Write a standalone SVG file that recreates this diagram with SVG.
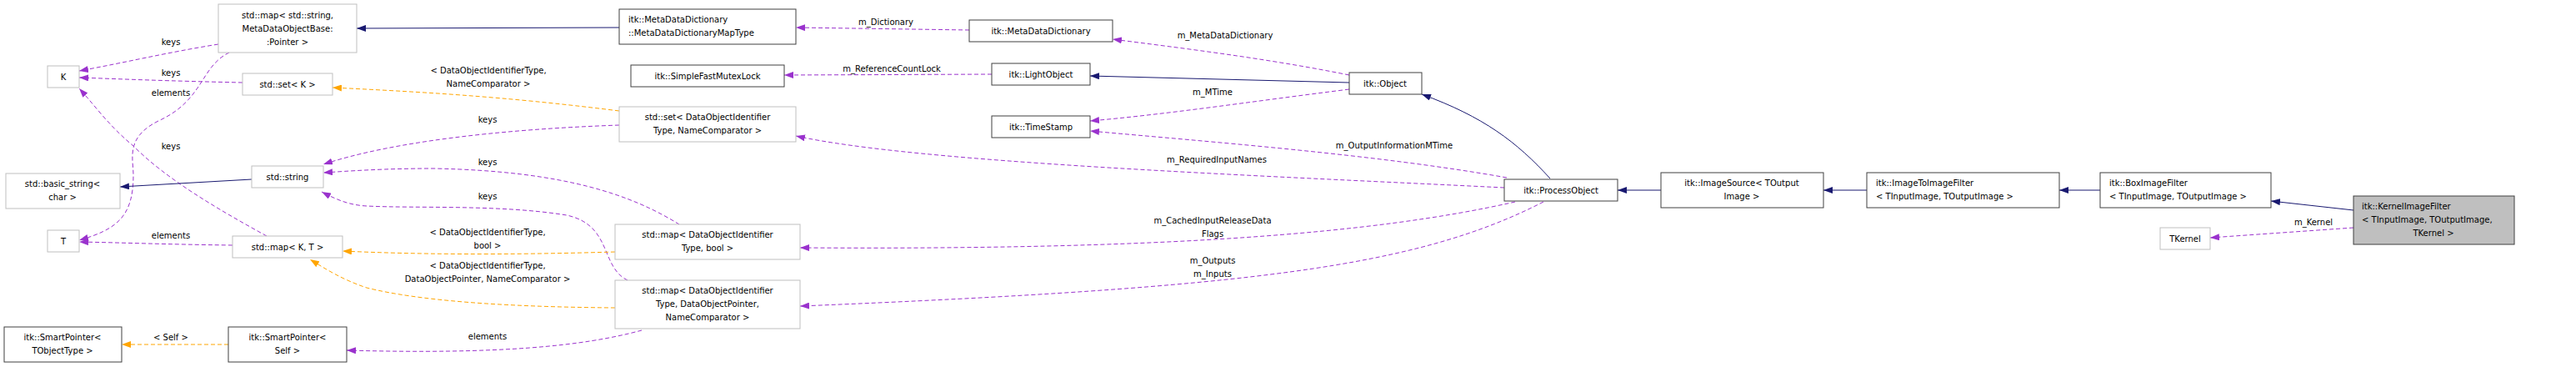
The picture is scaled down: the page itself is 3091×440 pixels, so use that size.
<svg xmlns="http://www.w3.org/2000/svg" width="3091" height="440" viewBox="0 0 3091 440">
<style>
text{font-family:"DejaVu Sans","Liberation Sans",sans-serif;font-size:10px;fill:#000}
.c{text-anchor:middle}
.n rect{fill:#fff;stroke:#bfbfbf;stroke-width:1}
.n.b rect{stroke:#404040}
.e{fill:none;stroke-width:1}
.s{stroke:#191970;marker-end:url(#an)}
.p{stroke:#9a32cd;stroke-dasharray:5,3;marker-end:url(#ap)}
.o{stroke:#ffa500;stroke-dasharray:5,3;marker-end:url(#ao)}
</style>
<defs>
<marker id="an" markerWidth="12" markerHeight="8" refX="11" refY="4" orient="auto" markerUnits="userSpaceOnUse"><path d="M0,0L11,4L0,8z" fill="#191970"/></marker>
<marker id="ap" markerWidth="12" markerHeight="8" refX="11" refY="4" orient="auto" markerUnits="userSpaceOnUse"><path d="M0,0L11,4L0,8z" fill="#9a32cd"/></marker>
<marker id="ao" markerWidth="12" markerHeight="8" refX="11" refY="4" orient="auto" markerUnits="userSpaceOnUse"><path d="M0,0L11,4L0,8z" fill="#ffa500"/></marker>
</defs>
<rect width="3091" height="440" fill="#fff"/>
<g id="edges">
<path class="e s" d="M743,33L428,34"/>
<path class="e p" d="M1163,36L955,33"/><text class="c" x="1063" y="30">m_Dictionary</text>
<path class="e p" d="M1619,90C1520,70 1420,58 1335,47"/><text class="c" x="1470" y="46">m_MetaDataDictionary</text>
<path class="e p" d="M1190,89L941,90"/><text class="c" x="1070" y="86">m_ReferenceCountLock</text>
<path class="e s" d="M1619,99L1308,91"/>
<path class="e p" d="M1619,107C1500,122 1400,137 1308,145"/><text class="c" x="1455" y="114">m_MTime</text>
<path class="e p" d="M1808,213C1650,185 1450,170 1308,157"/><text class="c" x="1673" y="178">m_OutputInformationMTime</text>
<path class="e s" d="M1860,214C1820,170 1780,140 1706,113"/>
<path class="e p" d="M1805,225C1500,210 1100,195 955,163"/><text class="c" x="1460" y="195">m_RequiredInputNames</text>
<path class="e p" d="M1818,242C1650,280 1400,300 960,297"/><text class="c" x="1455" y="268">m_CachedInputReleaseData</text><text class="c" x="1455" y="284">Flags</text>
<path class="e p" d="M1852,242C1700,320 1500,345 960,367"/><text class="c" x="1455" y="316">m_Outputs</text><text class="c" x="1455" y="332">m_Inputs</text>
<path class="e s" d="M1993,228L1941,228"/>
<path class="e s" d="M2240,228L2188,228"/>
<path class="e s" d="M2520,228L2471,228"/>
<path class="e s" d="M2824,252L2725,241"/>
<path class="e p" d="M2824,273L2652,285"/><text class="c" x="2776" y="270">m_Kernel</text>
<path class="e o" d="M743,133C600,115 500,110 399,105"/><text class="c" x="586" y="88">&lt; DataObjectIdentifierType,</text><text class="c" x="586" y="104">NameComparator &gt;</text>
<path class="e p" d="M743,150C600,155 470,170 388,197"/><text class="c" x="585" y="147">keys</text>
<path class="e p" d="M815,269C760,235 680,205 520,202C460,202 420,205 388,207"/><text class="c" x="585" y="198">keys</text>
<path class="e p" d="M753,336C720,320 735,270 680,258C600,245 500,250 440,247C420,246 405,240 386,230"/><text class="c" x="585" y="239">keys</text>
<path class="e o" d="M738,302C600,306 500,305 411,301"/><text class="c" x="585" y="282">&lt; DataObjectIdentifierType,</text><text class="c" x="585" y="298">bool &gt;</text>
<path class="e o" d="M738,369C600,368 500,360 440,345C410,335 390,322 372,311"/><text class="c" x="585" y="322">&lt; DataObjectIdentifierType,</text><text class="c" x="585" y="338">DataObjectPointer, NameComparator &gt;</text>
<path class="e p" d="M770,396C700,415 600,425 416,420"/><text class="c" x="585" y="407">elements</text>
<path class="e o" d="M274,413L146,413"/><text class="c" x="205" y="408">&lt; Self &gt;</text>
<path class="e p" d="M262,53C200,63 150,75 95,85"/><text class="c" x="205" y="54">keys</text>
<path class="e p" d="M291,99C200,97 150,95 95,93"/><text class="c" x="205" y="91">keys</text>
<path class="e p" d="M320,283C260,250 200,215 160,175C130,150 115,128 95,106"/><text class="c" x="205" y="179">keys</text>
<path class="e p" d="M275,63C240,80 245,120 190,145C150,165 160,190 160,210C160,260 140,275 95,288"/><text class="c" x="205" y="115">elements</text>
<path class="e p" d="M279,294C200,293 150,291 95,290"/><text class="c" x="205" y="286">elements</text>
<path class="e s" d="M302,215L144,224"/>
</g>
<g id="n_mapstr" class="n"><rect x="262" y="5" width="166" height="58"/><text class="c" x="345" y="22">std::map&lt; std::string,</text><text class="c" x="345" y="38">MetaDataObjectBase:</text><text class="c" x="345" y="54">:Pointer &gt;</text></g>
<g id="n_K" class="n"><rect x="57" y="79" width="38" height="26"/><text class="c" x="76" y="96">K</text></g>
<g id="n_setK" class="n"><rect x="291" y="88" width="108" height="26"/><text class="c" x="345" y="105">std::set&lt; K &gt;</text></g>
<g id="n_string" class="n"><rect x="302" y="199" width="86" height="26"/><text class="c" x="345" y="216">std::string</text></g>
<g id="n_basic" class="n"><rect x="7" y="208" width="137" height="42"/><text class="c" x="75" y="224">std::basic_string&lt;</text><text class="c" x="75" y="240">char &gt;</text></g>
<g id="n_T" class="n"><rect x="57" y="276" width="38" height="26"/><text class="c" x="76" y="293">T</text></g>
<g id="n_mapKT" class="n"><rect x="279" y="283" width="132" height="26"/><text class="c" x="345" y="300">std::map&lt; K, T &gt;</text></g>
<g id="n_spT" class="n b"><rect x="5" y="392" width="141" height="42"/><text class="c" x="75" y="408">itk::SmartPointer&lt;</text><text class="c" x="75" y="424">TObjectType &gt;</text></g>
<g id="n_spS" class="n b"><rect x="274" y="392" width="142" height="42"/><text class="c" x="345" y="408">itk::SmartPointer&lt;</text><text class="c" x="345" y="424">Self &gt;</text></g>
<g id="n_mdmap" class="n b"><rect x="743" y="11" width="212" height="42"/><text x="754" y="27">itk::MetaDataDictionary</text><text x="754" y="43">::MetaDataDictionaryMapType</text></g>
<g id="n_mutex" class="n b"><rect x="757" y="78" width="184" height="26"/><text class="c" x="849" y="95">itk::SimpleFastMutexLock</text></g>
<g id="n_setD" class="n"><rect x="743" y="128" width="212" height="42"/><text class="c" x="849" y="144">std::set&lt; DataObjectIdentifier</text><text class="c" x="849" y="160">Type, NameComparator &gt;</text></g>
<g id="n_mapDB" class="n"><rect x="738" y="269" width="222" height="42"/><text class="c" x="849" y="285">std::map&lt; DataObjectIdentifier</text><text class="c" x="849" y="301">Type, bool &gt;</text></g>
<g id="n_mapDP" class="n"><rect x="738" y="336" width="222" height="58"/><text class="c" x="849" y="352">std::map&lt; DataObjectIdentifier</text><text class="c" x="849" y="368">Type, DataObjectPointer,</text><text class="c" x="849" y="384">NameComparator &gt;</text></g>
<g id="n_mdd" class="n b"><rect x="1163" y="24" width="172" height="26"/><text class="c" x="1249" y="41">itk::MetaDataDictionary</text></g>
<g id="n_light" class="n b"><rect x="1190" y="76" width="118" height="26"/><text class="c" x="1249" y="93">itk::LightObject</text></g>
<g id="n_ts" class="n b"><rect x="1190" y="139" width="118" height="26"/><text class="c" x="1249" y="156">itk::TimeStamp</text></g>
<g id="n_obj" class="n b"><rect x="1619" y="87" width="87" height="26"/><text class="c" x="1662" y="104">itk::Object</text></g>
<g id="n_po" class="n b"><rect x="1805" y="215" width="136" height="26"/><text class="c" x="1873" y="232">itk::ProcessObject</text></g>
<g id="n_is" class="n b"><rect x="1993" y="207" width="195" height="42"/><text class="c" x="2090" y="223">itk::ImageSource&lt; TOutput</text><text class="c" x="2090" y="239">Image &gt;</text></g>
<g id="n_iti" class="n b"><rect x="2240" y="207" width="231" height="42"/><text x="2251" y="223">itk::ImageToImageFilter</text><text x="2251" y="239">&lt; TInputImage, TOutputImage &gt;</text></g>
<g id="n_box" class="n b"><rect x="2520" y="207" width="205" height="42"/><text x="2531" y="223">itk::BoxImageFilter</text><text x="2531" y="239">&lt; TInputImage, TOutputImage &gt;</text></g>
<g id="n_tk" class="n"><rect x="2592" y="273" width="60" height="26"/><text class="c" x="2622" y="290">TKernel</text></g>
<g id="n_kif" class="n b"><rect x="2824" y="235" width="193" height="58" style="fill:#bfbfbf"/><text x="2834" y="251">itk::KernelImageFilter</text><text x="2834" y="267">&lt; TInputImage, TOutputImage,</text><text class="c" x="2920" y="283">TKernel &gt;</text></g>
</svg>
